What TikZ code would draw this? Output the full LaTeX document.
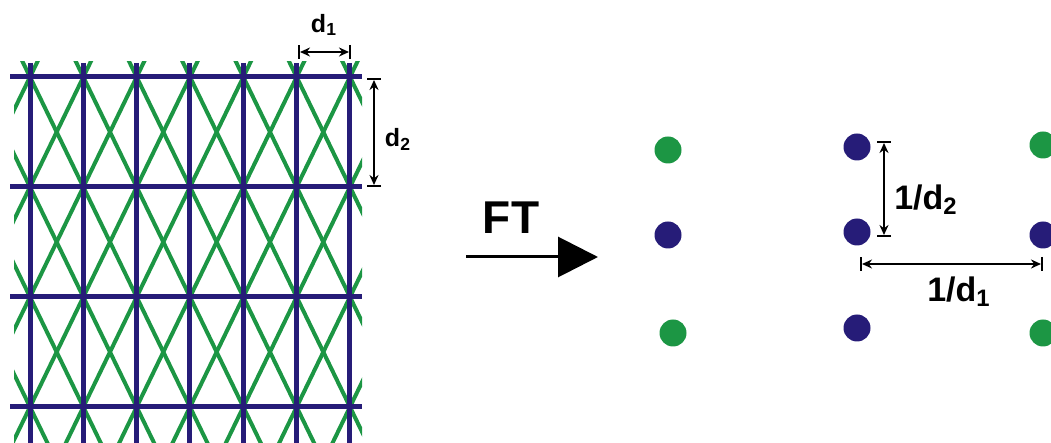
\documentclass[tikz,border=0pt]{standalone}
\usepackage{fontspec}
\setmainfont{Liberation Sans}
\usetikzlibrary{arrows.meta}

\definecolor{latblue}{RGB}{38,28,120}
\definecolor{latgreen}{RGB}{28,150,68}

\tikzset{
    bdot/.style={circle, fill=latblue, inner sep=0pt, minimum size=13.5pt},
    gdot/.style={circle, fill=latgreen, inner sep=0pt, minimum size=13.5pt},
    dimline/.style={|<->|, >={Stealth[length=5pt,width=4.5pt]}, line width=1pt},
    lbl/.style={font=\bfseries\fontsize{12.5}{12.5}\selectfont},
    biglbl/.style={font=\bfseries\fontsize{17}{17}\selectfont}
}

\begin{document}
\begin{tikzpicture}[x=0.5pt, y=-0.5pt]
    \useasboundingbox (0,0) rectangle (1051,443);
    % Gitter im Ortsraum: gruene Diagonalen
    \begin{scope}
        \clip (14,62) rectangle (362,443);
        \foreach \k in {-10,...,10} {
            \draw[latgreen, line width=2pt] ({30+(\k-1)*53.33},-33) -- ({30+(\k+4)*53.33},517);
            \draw[latgreen, line width=2pt] ({30+(\k+1)*53.33},-33) -- ({30+(\k-4)*53.33},517);
        }
    \end{scope}
    % blaues Rechteckgitter
    \foreach \x in {0,...,6}
        \draw[latblue, line width=2.5pt] ({30+\x*53.33},63) -- ({30+\x*53.33},445);
    \foreach \y in {0,...,3}
        \draw[latblue, line width=2.5pt] (10,{77+\y*110}) -- (362,{77+\y*110});
    % Abstaende d1, d2
    \coordinate (d1a) at (298,52);
    \coordinate (d1b) at (351,52);
    \draw[dimline] (d1a) -- (d1b);
    \node[lbl] (d1) at (324,25) {d\textsubscript{1}};
    \coordinate (d2a) at (374,78);
    \coordinate (d2b) at (374,187);
    \draw[dimline] (d2a) -- (d2b);
    \node[lbl] (d2) at (398,139) {d\textsubscript{2}};
    % Fourier-Transformation
    \node[font=\bfseries\fontsize{23}{23}\selectfont] (ft) at (511,218) {FT};
    \coordinate (fta) at (466,257);
    \coordinate (ftb) at (598,257);
    \draw[line width=1.5pt, -{Triangle[length=20pt,width=20pt]}] (fta) -- (ftb);
    % reziprokes Gitter
    \node[gdot] (g1) at (668,150) {};
    \node[bdot] (b1) at (668,235) {};
    \node[gdot] (g2) at (673,333) {};
    \node[bdot] (b2) at (857,147) {};
    \node[bdot] (b3) at (857,232) {};
    \node[bdot] (b4) at (857,328) {};
    \node[gdot] (g3) at (1043,145) {};
    \node[bdot] (b5) at (1043,235) {};
    \node[gdot] (g4) at (1043,333) {};
    % Abstaende 1/d2, 1/d1
    \coordinate (r2a) at (884,141);
    \coordinate (r2b) at (884,237);
    \draw[dimline] (r2a) -- (r2b);
    \node[biglbl] (r2) at (926,200) {1/d\textsubscript{2}};
    \coordinate (r1a) at (860,264);
    \coordinate (r1b) at (1043,264);
    \draw[dimline] (r1a) -- (r1b);
    \node[biglbl] (r1) at (959,292) {1/d\textsubscript{1}};
\end{tikzpicture}
\end{document}
